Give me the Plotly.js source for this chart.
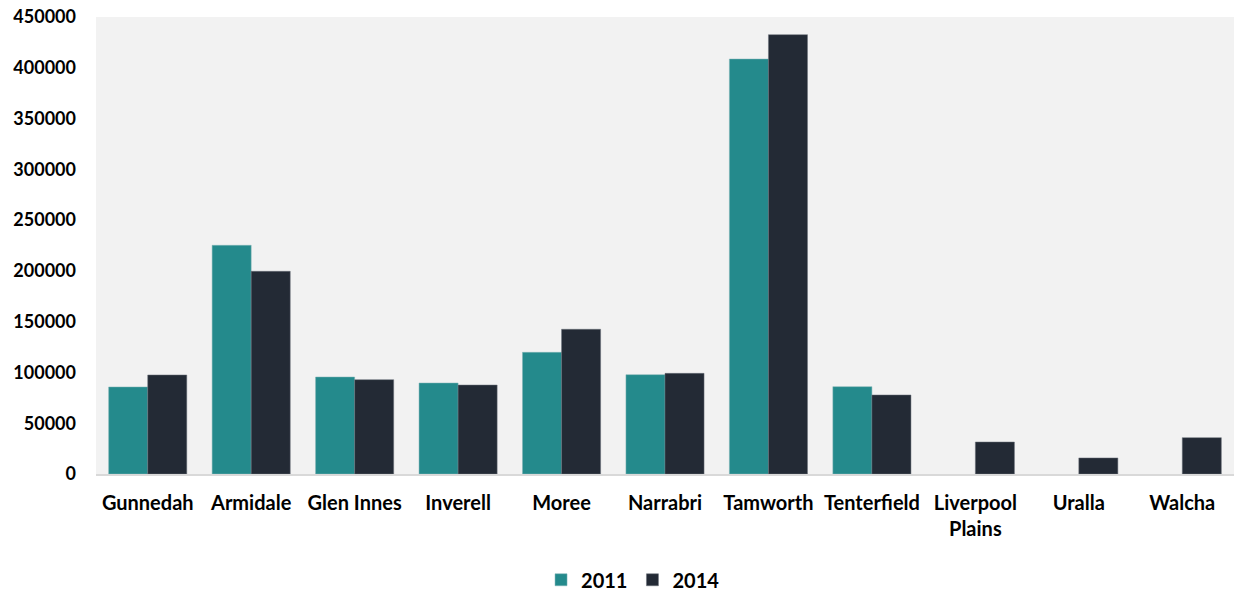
<!DOCTYPE html>
<html>
<head>
<meta charset="utf-8">
<script src="https://cdn.plot.ly/plotly-3.0.1.min.js"></script>
<style>html,body{margin:0;padding:0;background:#fff;}#chart{width:1234px;height:591px;}</style>
</head>
<body>
<div id="chart"></div>
<script>
var categories = ["Gunnedah", "Armidale", "Glen Innes", "Inverell", "Moree", "Narrabri", "Tamworth", "Tenterfield", "Liverpool<br>Plains", "Uralla", "Walcha"];
var values2011 = [85700, 225200, 95500, 89600, 119800, 97800, 408600, 86000, null, null, null];
var values2014 = [97500, 199600, 92900, 87600, 142500, 99100, 432600, 77800, 31500, 15800, 35800];
var seriesNames = ["2011", "2014"];
var yTicks = [0, 50000, 100000, 150000, 200000, 250000, 300000, 350000, 400000, 450000];

var fontY = {family: "Lato, 'Open Sans', sans-serif", size: 18, color: "#000000", weight: 700};
var fontX = {family: "Lato, 'Open Sans', sans-serif", size: 20, color: "#000000", weight: 700};

var traces = [
  {type: "bar", name: seriesNames[0], x: categories, y: values2011,
   marker: {color: "#248A8C", line: {color: "#7fb3b4", width: 0.5}}},
  {type: "bar", name: seriesNames[1], x: categories, y: values2014,
   marker: {color: "#232A35", line: {color: "#6b717a", width: 0.5}}}
];

var layout = {
  width: 1234, height: 591,
  margin: {l: 96, r: 0, t: 17, b: 117, autoexpand: false},
  paper_bgcolor: "#FFFFFF",
  plot_bgcolor: "#F2F2F2",
  barmode: "group",
  bargap: 0.245,
  bargroupgap: 0,
  font: fontY,
  showlegend: true,
  legend: {orientation: "h", xref: "container", yref: "container", x: 0.513, xanchor: "center",
           y: 0.019, yanchor: "middle", font: fontX, itemwidth: 30, traceorder: "normal"},
  xaxis: {type: "category", tickfont: fontX, showgrid: false, zeroline: false,
          showline: true, linecolor: "#D9D9D9", linewidth: 2, ticks: "", ticklabelstandoff: 10, automargin: false},
  yaxis: {range: [0, 450000], tickvals: yTicks, ticktext: yTicks.map(String),
          tickfont: fontY, showgrid: false, zeroline: false, showline: false,
          ticks: "", ticklabelstandoff: 19, automargin: false}
};

Plotly.newPlot("chart", traces, layout, {displayModeBar: false, staticPlot: true});
</script>
</body>
</html>
